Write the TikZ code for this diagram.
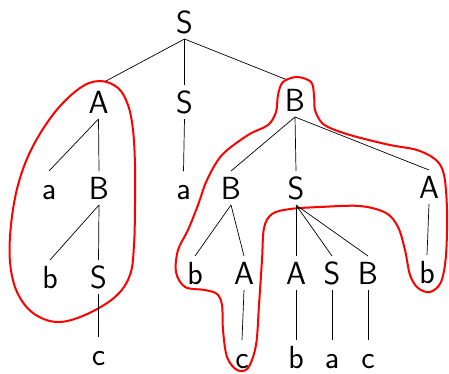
\documentclass[tikz,border=0pt]{standalone}
\pgfdeclarelayer{under}
\pgfdeclarelayer{loop}
\pgfsetlayers{under,loop,main}
\begin{document}
\begin{tikzpicture}[x=1pt,y=-1pt,
  sym/.style={font=\sffamily\fontsize{32}{38}\selectfont, text height=22pt,
    text depth=0pt, inner xsep=2pt, inner ysep=6pt, outer sep=0pt, anchor=base},
  edge/.style={draw=black, line width=0.7pt},
  blob/.style={draw=red, line width=2pt, fill=white}]
\useasboundingbox (0,0) rectangle (449,373);

% symbols, level by level
\node[sym] (S0) at (184.5,33) {S};

\node[sym] (A1) at (98.5,113) {A};
\node[sym] (S1) at (184.5,113) {S};
\node[sym] (B1) at (295,111) {B};

\node[sym] (a2) at (49,199) {a};
\node[sym] (B2) at (99,199) {B};
\node[sym] (a3) at (183.5,199) {a};
\node[sym] (B4) at (231,199) {B};
\node[sym] (S5) at (296,199) {S};
\node[sym] (A6) at (429,198) {A};

\node[sym] (b7) at (50,288) {b};
\node[sym] (S8) at (98.5,288) {S};
\node[sym] (b9) at (195,284) {b};
\node[sym] (A10) at (244,284) {A};
\node[sym] (A11) at (296,284) {A};
\node[sym] (S12) at (332,284) {S};
\node[sym] (B13) at (368,284) {B};
\node[sym] (b14) at (427,283) {b};

\node[sym] (c15) at (98.5,365) {c};
\node[sym] (c16) at (242,368) {c};
\node[sym] (b17) at (296,368) {b};
\node[sym] (a18) at (332,368) {a};
\node[sym] (c19) at (368,368) {c};

% branches into the encircled subtrees stop at the loops
\begin{pgfonlayer}{under}
  \draw[edge] (S0.south) -- (A1.north);
  \draw[edge] (S0.south) -- (B1.north);
\end{pgfonlayer}

% the two encircled regions
\begin{pgfonlayer}{loop}
  \draw[blob] plot[smooth cycle, tension=0.6] coordinates {
    (100,81) (118,88) (128,105) (133,130) (135,165) (135,205) (134,245)
    (130,275) (115,297) (85,315) (57,322) (33,313) (17,292) (10,262)
    (11,225) (18,185) (32,148) (55,112) (80,88)};
  \draw[blob] plot[smooth cycle, tension=0.55] coordinates {
    (297,77) (311,82) (314,95) (315,110) (322,123) (335,130) (357,137)
    (390,145) (417,150) (436,160) (444,175) (447,210) (446,255) (441,282)
    (430,292) (418,288) (410,275) (405,250) (398,227) (386,213) (360,206)
    (320,207) (290,209) (272,214) (264,228) (262,260) (259,305) (256,345)
    (248,368) (237,370) (227,357) (223,330) (222,305) (217,294) (205,290)
    (185,287) (176,272) (178,250) (188,230) (198,205) (207,180) (222,155)
    (248,135) (268,125) (276,112) (278,95) (283,82)};
\end{pgfonlayer}

% remaining branches
\draw[edge] (S0.south) -- (S1.north);
\draw[edge] (S1.south) -- (a3.north);

\draw[edge] (A1.south) -- (a2.north);
\draw[edge] (A1.south) -- (B2.north);
\draw[edge] (B2.south) -- (b7.north);
\draw[edge] (B2.south) -- (S8.north);
\draw[edge] (S8.south) -- (c15.north);

\draw[edge] (B1.south) -- (B4.north);
\draw[edge] (B1.south) -- (S5.north);
\draw[edge] (B1.south) -- (A6.north);
\draw[edge] (B4.south) -- (b9.north);
\draw[edge] (B4.south) -- (A10.north);
\draw[edge] (A10.south) -- (c16.north);
\draw[edge] (S5.south) -- (A11.north);
\draw[edge] (S5.south) -- (S12.north);
\draw[edge] (S5.south) -- (B13.north);
\draw[edge] (A6.south) -- (b14.north);
\draw[edge] (A11.south) -- (b17.north);
\draw[edge] (S12.south) -- (a18.north);
\draw[edge] (B13.south) -- (c19.north);
\end{tikzpicture}
\end{document}
